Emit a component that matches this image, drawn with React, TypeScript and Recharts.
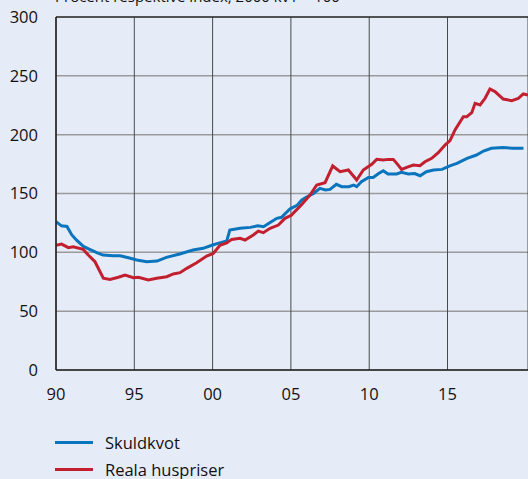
import React from "react";
import { LineChart, Line, XAxis, YAxis, CartesianGrid, ReferenceLine } from "recharts";

const xTicks = [1990, 1995, 2000, 2005, 2010, 2015];
const yTicks = [0, 50, 100, 150, 200, 250, 300];

const skuldYears = [
  1990.0, 1990.35, 1990.7, 1991.0, 1991.3, 1991.75, 1992.15, 1992.6, 1993.0, 1993.65,
  1994.1, 1994.75, 1995.15, 1995.8, 1996.45, 1997.05, 1997.9, 1998.75, 1999.4, 1999.95,
  2000.45, 2000.9, 2001.1, 2001.75, 2002.4, 2002.9, 2003.25, 2003.75, 2004.1, 2004.4,
  2004.95, 2005.4, 2005.7, 2006.0, 2006.45, 2006.85, 2007.2, 2007.5, 2007.9, 2008.25,
  2008.7, 2009.0, 2009.2, 2009.5, 2009.95, 2010.25, 2010.6, 2010.9, 2011.2, 2011.75,
  2012.05, 2012.5, 2012.9, 2013.25, 2013.65, 2014.1, 2014.65, 2015.15, 2015.6, 2016.25,
  2016.85, 2017.3, 2017.8, 2018.55, 2019.2, 2019.85,
];
const skuldValues = [
  126, 122.5, 122, 115, 110.5, 105, 102.5, 99.7, 97.7, 97,
  97, 95, 93.5, 92, 92.6, 95.7, 98.6, 102, 103.4, 106,
  108, 109.6, 119, 120.4, 121.2, 122.6, 121.8, 126, 128.9, 129.8,
  137, 140, 144.5, 147, 150, 154.4, 153, 153.5, 157.8, 155.8,
  155.8, 157.2, 155.8, 160, 163.7, 163.7, 167, 169.4, 166.6, 166.6,
  168, 166.6, 167, 165.1, 168.5, 170, 170.5, 173.4, 175.6, 179.9,
  182.7, 186.1, 188.4, 189, 188.4, 188.4,
];

const husYears = [
  1990.0, 1990.36, 1990.79, 1991.1, 1991.74, 1992.06, 1992.49, 1993.02, 1993.45, 1993.98,
  1994.41, 1994.94, 1995.26, 1995.9, 1996.43, 1997.07, 1997.49, 1997.92, 1998.35, 1998.98,
  1999.62, 2000.04, 2000.47, 2000.9, 2001.22, 2001.75, 2002.07, 2002.6, 2002.92, 2003.24,
  2003.67, 2004.2, 2004.62, 2005.05, 2005.2, 2005.65, 2006.22, 2006.65, 2007.18, 2007.67,
  2008.14, 2008.67, 2009.2, 2009.62, 2010.16, 2010.48, 2010.9, 2011.22, 2011.54, 2011.76,
  2012.07, 2012.39, 2012.82, 2013.24, 2013.56, 2013.99, 2014.41, 2014.84, 2015.16, 2015.48,
  2016.01, 2016.23, 2016.55, 2016.76, 2017.08, 2017.4, 2017.71, 2018.03, 2018.56, 2019.1,
  2019.52, 2019.84, 2020.14,
];
const husValues = [
  106, 107, 104, 104.8, 102.5, 97.7, 92, 78, 77, 78.8,
  80.7, 78.4, 78.8, 76.5, 78, 79.3, 81.6, 82.7, 86.4, 91.2,
  96.9, 99, 106, 108, 111, 112, 110.5, 114.7, 118, 116.7,
  120.4, 123.2, 128.9, 131.7, 134, 140, 148.7, 157.2, 159.2, 173.4,
  168.5, 170, 161.5, 170, 174.8, 179, 178.5, 179, 179, 175.6,
  170.5, 172.2, 174.2, 173.6, 177, 179.9, 184.7, 191.2, 195, 204,
  215.3, 215.3, 218.7, 226.6, 225.2, 230.9, 238.8, 236.6, 230.3, 228.9,
  230.9, 234.6, 233.7,
];

const skuldData = skuldYears.map((t, i) => ({ t, v: skuldValues[i] }));
const husData = husYears.map((t, i) => ({ t, v: husValues[i] }));

const FONT = "'Open Sans', sans-serif";
const BLUE = "#0a74bc";
const RED = "#c2202f";
const BG = "#e6ebf8";

export default function App() {
  return (
    <div
      style={{
        position: "absolute",
        left: 0,
        top: 0,
        width: 528,
        height: 479,
        background: BG,
        overflow: "hidden",
        fontFamily: FONT,
      }}
    >
      <div
        style={{
          position: "absolute",
          left: 55,
          top: -14,
          fontSize: 15,
          color: "#111",
          whiteSpace: "nowrap",
        }}
      >
        Procent respektive index, 2000 kv1 = 100
      </div>
      <LineChart
        width={528}
        height={479}
        margin={{ top: 17, right: 0, left: 0, bottom: 79 }}
      >
        <CartesianGrid horizontal={true} vertical={false} stroke="#9a9a9a" strokeWidth={1.5} />
        <CartesianGrid horizontal={false} vertical={true} stroke="#4a4a4a" strokeWidth={1} />
        <XAxis
          dataKey="t"
          type="number"
          domain={[1990, 2020.14]}
          ticks={xTicks}
          allowDataOverflow
          tickFormatter={(v: number) => String(v % 100).padStart(2, "0")}
          tickLine={false}
          tickSize={0}
          tickMargin={18}
          height={30}
          axisLine={{ stroke: "#222", strokeWidth: 1.5 }}
          tick={{ fill: "#111", fontSize: 16.5, fontFamily: FONT }}
        />
        <YAxis
          type="number"
          domain={[0, 300]}
          ticks={yTicks}
          width={56}
          tickLine={false}
          tickSize={0}
          tickMargin={18}
          axisLine={{ stroke: "#222", strokeWidth: 1.5 }}
          tick={{ fill: "#111", fontSize: 16.5, fontFamily: FONT }}
        />
        <ReferenceLine y={300} stroke="#333" strokeWidth={1.5} />
        <Line
          data={skuldData}
          dataKey="v"
          type="linear"
          stroke={BLUE}
          strokeWidth={3}
          dot={false}
          isAnimationActive={false}
          name="Skuldkvot"
        />
        <Line
          data={husData}
          dataKey="v"
          type="linear"
          stroke={RED}
          strokeWidth={3}
          dot={false}
          isAnimationActive={false}
          name="Reala huspriser"
        />
      </LineChart>
      <div style={{ position: "absolute", left: 55, top: 429, fontSize: 16.5, color: "#111" }}>
        {[
          { label: "Skuldkvot", color: BLUE },
          { label: "Reala huspriser", color: RED },
        ].map((item) => (
          <div key={item.label} style={{ display: "flex", alignItems: "center", height: 27 }}>
            <div style={{ width: 38, height: 3, background: item.color, marginRight: 12 }} />
            <span>{item.label}</span>
          </div>
        ))}
      </div>
    </div>
  );
}
